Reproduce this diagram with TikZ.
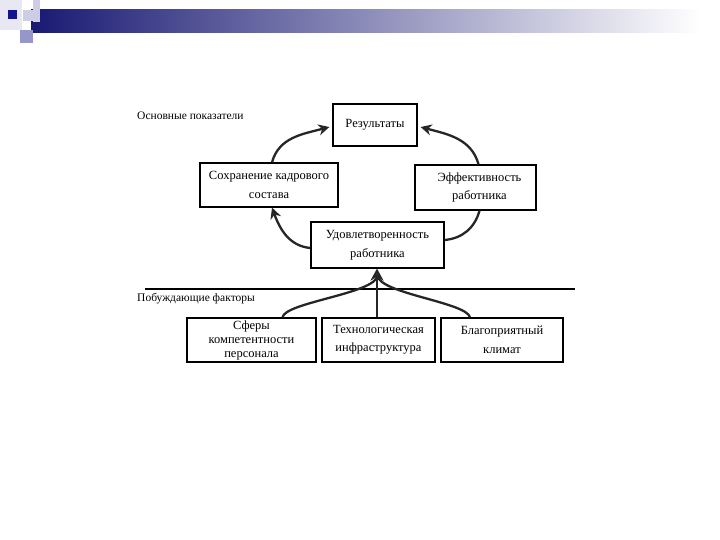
\documentclass[tikz,border=0pt]{standalone}
\usepackage{fontspec}
\setmainfont{Liberation Serif}
\usetikzlibrary{arrows.meta}
\definecolor{navy}{RGB}{25,25,115}
\definecolor{midgrad}{RGB}{160,160,190}
\definecolor{sqdark}{RGB}{20,20,140}
\definecolor{sqmid}{RGB}{150,150,205}
\definecolor{sqlight}{RGB}{205,205,230}
\definecolor{sqpale}{RGB}{232,232,242}
\definecolor{tipgreen}{RGB}{40,110,40}
\begin{document}
\begin{tikzpicture}[x=1pt,y=1pt,
  box/.style={draw, line width=1.2pt, align=center, inner sep=0pt,
    font=\fontsize{12.5}{18.5}\selectfont},
  lbl/.style={anchor=west, inner sep=0pt, font=\fontsize{11.5}{13}\selectfont},
  cyc/.style={line width=2.3pt, draw=black!85, -{Stealth[length=11pt,width=11pt]}},
  cycn/.style={line width=2.3pt, draw=black!85},
  feed/.style={line width=2.3pt, draw=black!85},
  feedarr/.style={line width=2.3pt, draw=black!85, -{Stealth[length=12pt,width=13pt,fill=tipgreen]}}]
\useasboundingbox (0,0) rectangle (720,-540);
% top-left decoration
\fill[sqpale] (0,0) rectangle (22,-30);
\shade[left color=navy, middle color=midgrad, right color=white] (31,-10) rectangle (700,-33);
\fill[sqlight] (33,0) rectangle (40,-22);
\fill[sqlight] (23,-10) rectangle (38,-21);
\fill[sqdark] (8,-10) rectangle (17,-19);
\fill[sqmid] (20,-30) rectangle (33,-43);
% labels
\node[lbl] (top) at (137,-116) {Основные показатели};
\node[lbl] (bot) at (137,-299) {Побуждающие факторы};
% separating line
\coordinate (l1) at (145,-289);
\coordinate (l2) at (575,-289);
\draw[line width=1.3pt] (l1) -- (l2);
% boxes
\node[box, minimum width=84pt, minimum height=42pt] (res) at (375,-125) {Результаты};
\node[box, minimum width=138pt, minimum height=44pt] (sokh) at (269,-185) {Сохранение кадрового\\состава};
\node[box, minimum width=121pt, minimum height=45pt] (eff) at (475.5,-187.5) {\hspace*{8pt}Эффективность\\\hspace*{8pt}работника};
\node[box, minimum width=133pt, minimum height=46pt] (udov) at (377.5,-245) {Удовлетворенность\\работника};
\node[box, minimum width=129pt, minimum height=44pt, font=\fontsize{12.5}{14}\selectfont] (sfer) at (251.5,-340) {Сферы\\компетентности\\персонала};
\node[box, minimum width=113pt, minimum height=44pt] (tech) at (378.5,-340) {Технологическая\\инфраструктура};
\node[box, minimum width=122pt, minimum height=44pt] (blag) at (502,-340) {Благоприятный\\климат};
% cycle arrows
\draw[cyc] ([xshift=3pt]sokh.north) to[out=75,in=195] ([xshift=-3pt,yshift=-2pt]res.west);
\draw[cyc] ([xshift=3pt]eff.north) to[out=105,in=-15] ([xshift=3pt,yshift=-2pt]res.east);
\draw[cyc] ([yshift=-3pt]udov.west) to[out=175,in=-70] ([xshift=3pt]sokh.south);
\draw[cycn] ([yshift=5pt]udov.east) to[out=5,in=-105] ([xshift=4pt]eff.south);
% factor arrows
\draw[feed] ([xshift=31pt]sfer.north) .. controls +(2,15) and +(-2,-18) .. ([yshift=-7pt]udov.south);
\draw[feed] ([xshift=-32pt]blag.north) .. controls +(-3,15) and +(2,-18) .. ([yshift=-7pt]udov.south);
\draw[feedarr] ([xshift=-1.5pt]tech.north) -- ([xshift=-0.5pt]udov.south);
\end{tikzpicture}
\end{document}
